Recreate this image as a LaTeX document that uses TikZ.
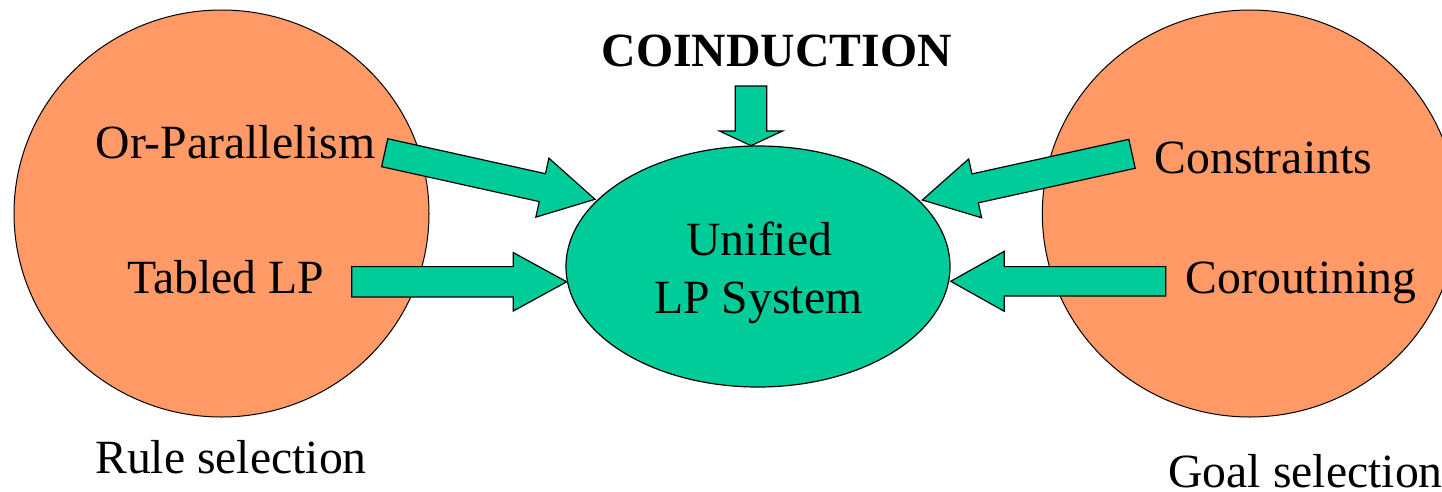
\documentclass[tikz,border=0pt]{standalone}
\usepackage{fontspec}
\setmainfont{Liberation Serif}
\usetikzlibrary{calc,shapes.geometric}

\definecolor{selorange}{HTML}{FF9966}
\definecolor{lpgreen}{HTML}{00CC99}

\tikzset{
  selcircle/.style={ellipse, draw=black, line width=1pt, fill=selorange,
    minimum width=415pt, minimum height=407pt, inner sep=0pt, outer sep=0pt},
  corebox/.style={ellipse, draw=black, line width=1.2pt, fill=lpgreen,
    minimum width=384pt, minimum height=241pt, inner sep=0pt, outer sep=0pt},
  arrowbox/.style={draw=black, fill=lpgreen, line width=1.2pt, line join=miter},
  lbl/.style={inner sep=0pt, outer sep=0pt, font=\fontsize{47.7}{57.6}\selectfont},
}

% block arrow: #1 tail, #2 tip, #3 shaft half width, #4 head half width, #5 head length
\newcommand\blockarrow[5]{%
  \path ($(#2)!#5!(#1)$) coordinate (hb);
  \filldraw[arrowbox] ($(#1)!#3!90:(#2)$) -- ($(hb)!#3!90:(#2)$)
    -- ($(hb)!#4!90:(#2)$) -- (#2) -- ($(hb)!#4!-90:(#2)$)
    -- ($(hb)!#3!-90:(#2)$) -- ($(#1)!#3!-90:(#2)$) -- cycle;
}

\begin{document}
\begin{tikzpicture}[x=1pt, y=-1pt]
\useasboundingbox (0,0) rectangle (1442,491);
\clip (0,0) rectangle (1442,491);

% the two selection circles
\node[selcircle] (rulesel) at (221.5,213.5) {};
\node[selcircle] (goalsel) at (1249.8,213.5) {};

% the unified system
\node[corebox] (core) at (758,266.5) {};

% arrow ends
\coordinate (orT) at (384.7,152.7);   \coordinate (orH) at (595,199.3);
\coordinate (tbT) at (351.7,281.8);   \coordinate (tbH) at (566.7,281.8);
\coordinate (csT) at (1132,153.8);    \coordinate (csH) at (922.3,200);
\coordinate (crT) at (1165.7,281.3);  \coordinate (crH) at (950.7,281.3);
\coordinate (ciT) at (751,86);        \coordinate (ciH) at (751,145.7);

\blockarrow{orT}{orH}{14.3pt}{30.2pt}{53.9pt}
\blockarrow{tbT}{tbH}{15.2pt}{29.2pt}{53.4pt}
\blockarrow{csT}{csH}{14.8pt}{30.1pt}{54.1pt}
\blockarrow{crT}{crH}{14.7pt}{30pt}{53.6pt}
\blockarrow{ciT}{ciH}{15.8pt}{31.5pt}{14.7pt}

% labels
\node[lbl, anchor=base, font=\fontsize{47.7}{57.6}\selectfont\bfseries] (coind) at (776.7,66.7) {COINDUCTION};
\node[lbl, anchor=base] (orpar) at (235.5,158) {Or-Parallelism};
\node[lbl, anchor=base] (tabled) at (226,293) {Tabled LP};
\node[lbl, anchor=base] (rulelbl) at (231,473) {Rule selection};
\node[lbl, anchor=base] (constr) at (1263.3,173) {Constraints};
\node[lbl, anchor=base] (corout) at (1300.9,293) {Coroutining};
\node[lbl, anchor=base west] (goallbl) at (1168.5,487) {Goal selection};
\node[lbl, anchor=base] (uni1) at (759.4,255.7) {Unified};
\node[lbl, anchor=base] (uni2) at (758.4,313.3) {LP System};
\end{tikzpicture}
\end{document}
